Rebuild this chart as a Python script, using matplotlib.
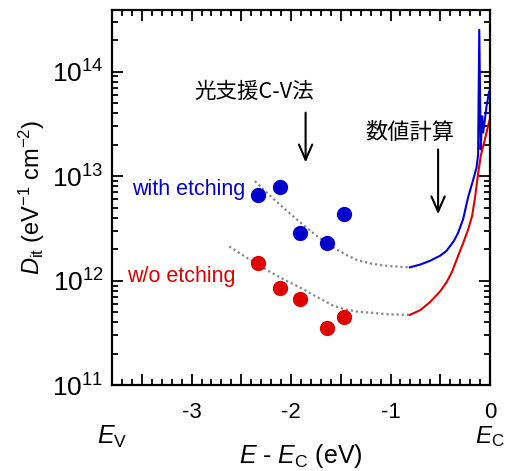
import matplotlib
matplotlib.use("Agg")
import matplotlib.pyplot as plt
from matplotlib.ticker import MultipleLocator, LogLocator, FuncFormatter, NullFormatter
import numpy as np

plt.rcParams['font.family'] = ['Liberation Sans', 'DejaVu Sans']
plt.rcParams['mathtext.fontset'] = 'custom'
plt.rcParams['mathtext.rm'] = 'Liberation Sans'
plt.rcParams['mathtext.it'] = 'Liberation Sans:italic'
plt.rcParams['mathtext.bf'] = 'Liberation Sans:bold'

# --- data (energy in eV relative to E_C, Dit in eV^-1 cm^-2) ---
with_x = [-2.331, -2.113, -1.912, -1.637, -1.466]
with_y = [6.56e12, 7.95e12, 2.85e12, 2.32e12, 4.39e12]
wo_x = [-2.331, -2.113, -1.912, -1.637, -1.466]
wo_y = [1.47e12, 8.5e11, 6.7e11, 3.52e11, 4.54e11]

guide_with_x = [-2.364, -2.22, -2.079, -1.91, -1.744, -1.576, -1.45, -1.342, -1.2, -1.04, -0.92, -0.806]
guide_with_logy = [12.953, 12.82, 12.70, 12.56, 12.43, 12.318, 12.25, 12.20, 12.165, 12.143, 12.134, 12.128]
guide_wo_x = [-2.622, -2.42, -2.23, -2.07, -1.912, -1.74, -1.576, -1.45, -1.342, -1.2, -1.04, -0.92, -0.806]
guide_wo_logy = [12.328, 12.205, 12.095, 12.01, 11.937, 11.845, 11.762, 11.725, 11.705, 11.695, 11.68, 11.676, 11.673]

calc_with_x = [-0.806, -0.7, -0.605, -0.5, -0.437, -0.364, -0.32, -0.27, -0.22, -0.18,
               -0.136, -0.12, -0.108, -0.094, -0.079, -0.069, -0.052, -0.035, -0.012, 0.0]
calc_with_logy = [12.128, 12.155, 12.19, 12.24, 12.286, 12.38, 12.46, 12.59, 12.80, 12.93,
                  13.08, 13.2, 14.40, 13.256, 13.573, 13.418, 13.54, 13.668, 13.796, 13.83]
calc_wo_x = [-0.806, -0.7, -0.605, -0.5, -0.437, -0.38, -0.32, -0.27, -0.22, -0.18,
             -0.153, -0.12, -0.092, -0.052, -0.012, 0.0]
calc_wo_logy = [11.673, 11.72, 11.794, 11.90, 11.985, 12.09, 12.24, 12.36, 12.49, 12.62,
                12.78, 13.02, 13.2, 13.35, 13.51, 13.55]

xticks_labeled = [-3, -2, -1, 0]

blue = '#0000CC'
red = '#E00000'

fig = plt.figure(figsize=(5.08, 4.71), dpi=100)
ax = fig.add_axes([0.2205, 0.182, 0.7441, 0.7968])

ax.plot(guide_with_x, 10 ** np.array(guide_with_logy), color='#888888', lw=1.6,
        linestyle=(0, (1, 1.3)))
ax.plot(guide_wo_x, 10 ** np.array(guide_wo_logy), color='#888888', lw=1.6,
        linestyle=(0, (1, 1.3)))
ax.plot(calc_with_x, 10 ** np.array(calc_with_logy), color=blue, lw=1.5)
ax.plot(calc_wo_x, 10 ** np.array(calc_wo_logy), color=red, lw=1.5)
ax.plot(with_x, with_y, 'o', color=blue, ms=11, mec='none')
ax.plot(wo_x, wo_y, 'o', color=red, ms=11, mec='none')

ax.set_yscale('log')
ax.set_xlim(-3.8, 0.0)
ax.set_ylim(1e11, 10 ** 14.59)

ax.xaxis.set_major_locator(MultipleLocator(0.5))
ax.xaxis.set_minor_locator(MultipleLocator(0.1))
ax.xaxis.set_major_formatter(FuncFormatter(
    lambda v, p: ('%d' % round(v)) if any(abs(v - t) < 1e-6 for t in xticks_labeled) else ''))
ax.yaxis.set_major_locator(LogLocator(base=10, numticks=10))
ax.yaxis.set_minor_locator(LogLocator(base=10, subs=np.arange(2, 10), numticks=20))
ax.yaxis.set_minor_formatter(NullFormatter())
ax.yaxis.set_major_formatter(FuncFormatter(
    lambda v, p: r'$\mathregular{10^{%d}}$' % round(np.log10(v))))

ax.tick_params(which='both', direction='in', top=True, right=True, width=1.3)
ax.tick_params(which='major', length=8)
ax.tick_params(which='minor', length=4.5)
ax.tick_params(axis='x', labelsize=16, pad=12)
ax.tick_params(axis='y', labelsize=19, pad=6)
for s in ax.spines.values():
    s.set_linewidth(1.6)

ax.set_ylabel(r'$D_{\mathregular{it}}$ (eV$^{-1}$ cm$^{-2}$)', fontsize=17, labelpad=4)
fig.text(301 / 508, 1 - 456 / 471, r'$E$ - $E_{\mathregular{C}}$ (eV)', fontsize=18,
         ha='center', va='center')
fig.text(97 / 508, 1 - 437 / 471, r'$E_{\mathregular{V}}$', fontsize=18, ha='left', va='center')
fig.text(505 / 508, 1 - 437 / 471, r'$E_{\mathregular{C}}$', fontsize=17.5, ha='right', va='center')

cjk = ['Noto Sans CJK JP', 'DejaVu Sans']
ax.text(-2.369, 10 ** 13.808, '光支援C-V法', fontsize=15.5, family=cjk, ha='center', va='center')
ax.text(-0.806, 10 ** 13.418, '数値計算', fontsize=16, family=cjk, ha='center', va='center')
arr = dict(arrowstyle='->,head_length=0.55,head_width=0.24', lw=1.5, color='black',
           mutation_scale=20, shrinkA=0, shrinkB=0)
ax.annotate('', xy=(-1.854, 10 ** 13.132), xytext=(-1.854, 10 ** 13.608), arrowprops=arr)
ax.annotate('', xy=(-0.522, 10 ** 12.636), xytext=(-0.522, 10 ** 13.256), arrowprops=arr)

ax.text(-3.603, 10 ** 12.874, 'with etching', fontsize=15.5, color=blue, ha='left', va='center')
ax.text(-3.653, 10 ** 12.04, 'w/o etching', fontsize=15.5, color=red, ha='left', va='center')

fig.savefig('out.png', dpi=100)
